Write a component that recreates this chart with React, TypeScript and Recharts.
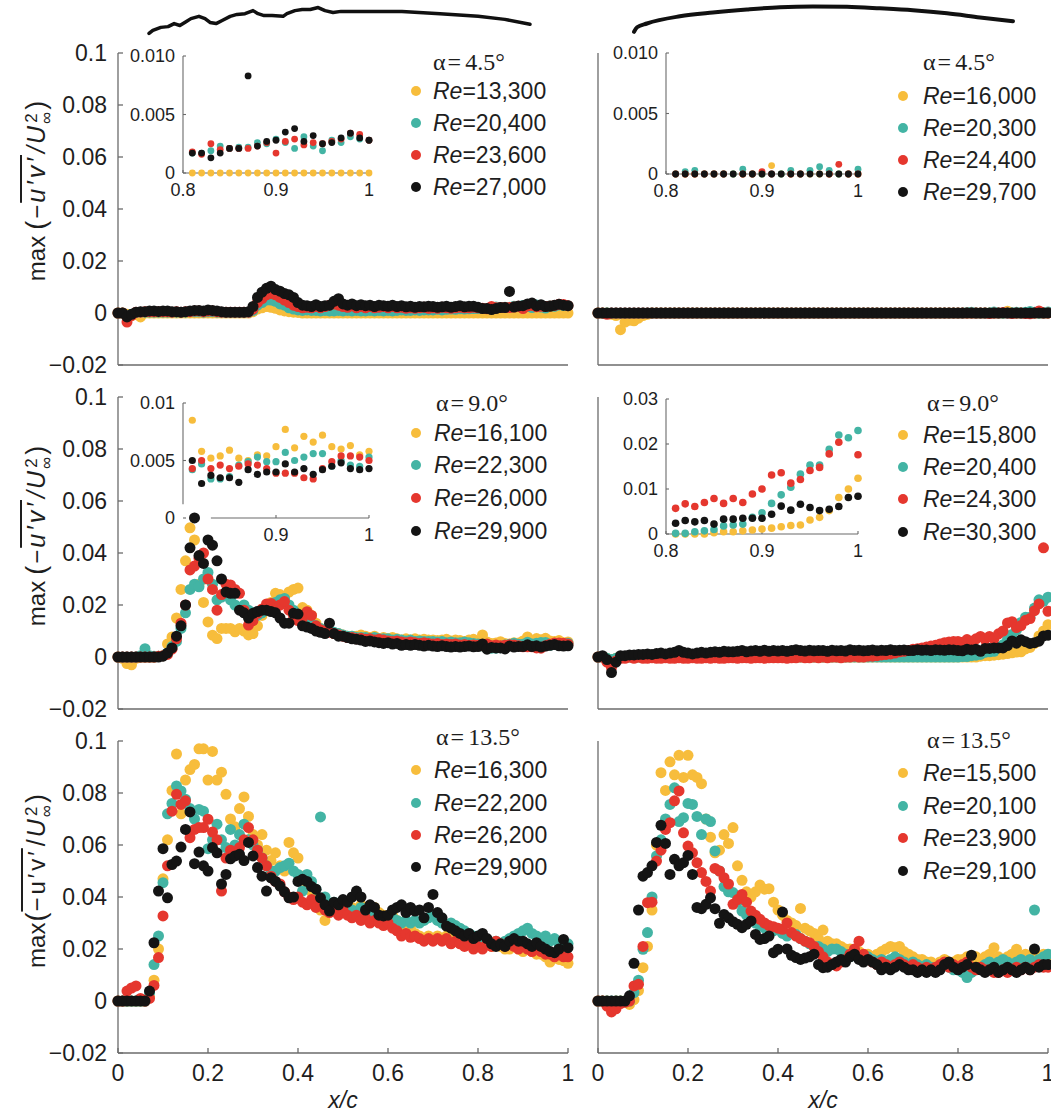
import React from 'react';
import { ScatterChart, Scatter, XAxis, YAxis, LineChart, Line, ReferenceLine } from 'recharts';

const SANS = '"Liberation Sans", Arial, Helvetica, sans-serif';
const SERIF = '"Liberation Serif", "Times New Roman", Times, serif';
const AXIS = '#6b6b6b';
const INK = '#1e1e1e';
const SERIES_COLORS = ['#F7BD3C', '#43B4A4', '#E5372E', '#141414'];

// chordwise stations x/c
const X = [0, 0.01, 0.02, 0.03, 0.04, 0.05, 0.06, 0.07, 0.08, 0.09, 0.1, 0.11, 0.12, 0.13, 0.14, 0.15, 0.16, 0.17, 0.18, 0.19, 0.2, 0.21, 0.22, 0.23, 0.24, 0.25, 0.26, 0.27, 0.28, 0.29, 0.3, 0.31, 0.32, 0.33, 0.34, 0.35, 0.36, 0.37, 0.38, 0.39, 0.4, 0.41, 0.42, 0.43, 0.44, 0.45, 0.46, 0.47, 0.48, 0.49, 0.5, 0.51, 0.52, 0.53, 0.54, 0.55, 0.56, 0.57, 0.58, 0.59, 0.6, 0.61, 0.62, 0.63, 0.64, 0.65, 0.66, 0.67, 0.68, 0.69, 0.7, 0.71, 0.72, 0.73, 0.74, 0.75, 0.76, 0.77, 0.78, 0.79, 0.8, 0.81, 0.82, 0.83, 0.84, 0.85, 0.86, 0.87, 0.88, 0.89, 0.9, 0.91, 0.92, 0.93, 0.94, 0.95, 0.96, 0.97, 0.98, 0.99, 1];
const XI = X.slice(81); // inset stations 0.81 .. 1.00

const X_TICKS = [0, 0.2, 0.4, 0.6, 0.8, 1];
const X_TICK_LABELS = ['0', '0.2', '0.4', '0.6', '0.8', '1'];
const Y_TICKS = [-0.02, 0, 0.02, 0.04, 0.06, 0.08, 0.1];
const Y_TICK_LABELS = ['\u22120.02', '0', '0.02', '0.04', '0.06', '0.08', '0.1'];
const IX_TICKS = [0.8, 0.9, 1];
const IX_LABELS = ['0.8', '0.9', '1'];

const RE_A = ['13,300', '20,400', '23,600', '27,000'];
const RE_B = ['16,000', '20,300', '24,400', '29,700'];
const RE_C = ['16,100', '22,300', '26,000', '29,900'];
const RE_D = ['15,800', '20,400', '24,300', '30,300'];
const RE_E = ['16,300', '22,200', '26,200', '29,900'];
const RE_F = ['15,500', '20,100', '23,900', '29,100'];
const ALPHAS = ['4.5', '9.0', '13.5'];

// values in units of 1e-3
// ---- alpha 4.5, rough airfoil
const A_YELLOW = [
  0, 0, -0.5, -1, -0.5, -1.5, 0, 0, 0, 0,
  0, 0, 0, 0, 0, 0, 0, 0, 0, 0,
  0, 0, 0, 0, 0, 0, 0, 0, 0, 0,
  0.5, 1.5, 2, 2.5, 2.2, 1.8, 1.2, 0.8, 0.5, 0.3,
  0.2, 0, 0, 0, 0, 0, 0, 0, 0, 0,
  0, 0, 0, 0, 0, 0, 0, 0, 0, 0,
  0, 0, 0, 0, 0, 0, 0, 0, 0, 0,
  0, 0, 0, 0, 0, 0, 0, 0, 0, 0,
  0, 0, 0, 0, 0, 0, 0, 0, 0, 0,
  0, 0, 0, 0, 0, 0, 0, 0, 0, 0,
  0,
];
const A_TEAL = [
  0, 0, -1, -0.5, 0.2, 0.3, 0.3, 0.3, 0.3, 0.3,
  0.3, 0.3, 0.3, 0.3, 0.3, 0.3, 0.5, 0.5, 0.5, 0.3,
  0.5, 0.5, 0.3, 0.2, 0.2, 0.2, 0.2, 0.2, 0.2, 0.2,
  1, 3, 4, 5, 5, 4.5, 3.5, 3, 2, 1.5,
  1.2, 1, 1.2, 1, 1, 0.8, 1, 0.8, 0.8, 1,
  0.8, 1, 0.8, 1, 0.8, 0.8, 1, 0.8, 1, 0.8,
  1, 0.8, 1, 1.2, 1, 1, 1.2, 1, 1.2, 1.2,
  1.2, 1.4, 1.2, 1.4, 1.5, 1.4, 1.6, 1.5, 1.6, 1.7,
  1.7, 1.7, 1.7, 1.9, 2.3, 2.1, 2.2, 2.2, 2.6, 2.5,
  2.9, 2.6, 2.1, 3.1, 2.3, 1.9, 2.8, 2.6, 3.1, 2.9,
  2.8,
];
const A_RED = [
  0, 0, -3.5, -1, 0.3, 0.3, 0.5, 0.5, 0.5, 0.5,
  0.5, 0.5, 0.3, 0.5, 0.3, 0.5, 0.5, 0.8, 0.8, 0.5,
  0.8, 0.8, 0.5, 0.3, 0.3, 0.3, 0.3, 0.3, 0.3, 0.3,
  1.5, 4, 5.5, 7, 7.5, 7, 6, 5, 4, 3,
  2.5, 2, 2.2, 2, 2.5, 2, 2.5, 3, 3.5, 3,
  2.5, 2.2, 2.8, 2, 2.5, 2, 2.5, 2, 2.2, 2.5,
  2, 2.5, 2, 2.2, 1.8, 2, 1.8, 2, 2.2, 1.8,
  2, 1.8, 2.2, 2, 1.8, 2, 2.2, 2, 2, 2.2,
  2, 1.8, 1.6, 2.5, 2, 2.1, 2.1, 2.1, 2.3, 2.6,
  1.7, 2.7, 2.9, 2.4, 2.6, 2.5, 2.7, 2.9, 3.4, 3.3,
  2.8,
];
const A_BLACK = [
  0, 0, -1.5, -0.5, 0.3, 0.5, 0.5, 0.8, 0.8, 0.6,
  0.8, 0.8, 0.5, 0.5, 0.3, 0.5, 0.8, 1, 1, 0.8,
  1.2, 1, 0.8, 0.5, 0.3, 0.3, 0.3, 0.3, 0.3, 0.5,
  2.5, 6, 8, 9.5, 10.3, 9, 8.4, 7.5, 7, 6,
  4, 3, 2.8, 2.5, 3.2, 2.5, 2.8, 3, 4.5, 5.5,
  3.5, 3, 3.5, 2.8, 3.2, 2.8, 3, 2.5, 3, 2.8,
  2.6, 3, 2.5, 2.8, 2.4, 2.6, 2.2, 2.5, 2.4, 2.6,
  2.5, 2.2, 2.4, 2.6, 2.2, 2.5, 2.8, 2.4, 2.6, 2.6,
  2.2, 1.7, 1.7, 1.3, 1.7, 2.1, 2.1, 8.3, 2.3, 2.7,
  2.8, 3.5, 3.8, 2.7, 3.2, 2.5, 2.6, 3, 3.4, 3,
  2.8,
];

// ---- alpha 4.5, smooth airfoil
const B_YELLOW = [
  0, 0, 0, -0.5, -1, -6.4, -3.5, -2.8, -3, -2,
  -1, -0.5, 0, 0, 0, 0, 0, 0, 0, 0,
  0, 0, 0, 0, 0, 0, 0, 0, 0, 0,
  0, 0, 0, 0, 0, 0, 0, 0, 0, 0,
  0, 0, 0, 0, 0, 0, 0, 0, 0, 0,
  0, 0, 0, 0, 0, 0, 0, 0, 0, 0,
  0, 0, 0, 0, 0, 0, 0, 0, 0, 0,
  0, 0, 0, 0, 0, 0, 0, 0, 0, 0,
  0, 0, 0, 0, 0, 0, 0, 0, 0, 0,
  0, 0.7, 0, 0, 0, 0, 0, 0, 0, 0,
  0,
];
const B_TEAL = [
  0, 0, 0, 0, 0, 0, 0, 0, 0, 0,
  0, 0, 0, 0, 0, 0, 0, 0, 0, 0,
  0, 0, 0, 0, 0, 0, 0, 0, 0, 0,
  0, 0, 0, 0, 0, 0, 0, 0, 0, 0,
  0, 0, 0, 0, 0, 0, 0, 0, 0, 0,
  0, 0, 0, 0, 0, 0, 0, 0, 0, 0,
  0, 0, 0, 0, 0, 0, 0, 0, 0, 0,
  0, 0, 0, 0, 0, 0, 0, 0, 0, 0,
  0, 0, 0.2, 0.3, 0, 0, 0, 0, 0.4, 0,
  0, 0, 0, 0.3, 0, 0.3, 0.6, 0.3, 0, 0,
  0.4,
];
const B_RED = [
  0, 0, -0.5, 0, 0, 0, 0, 0, 0, 0,
  0, 0, 0, 0, 0, 0, 0, 0, 0, 0,
  0, 0, 0, 0, 0, 0, 0, 0, 0, 0,
  0, 0, 0, 0, 0, 0, 0, 0, 0, 0,
  0, 0, 0, 0, 0, 0, 0, 0, 0, 0,
  0, 0, 0, 0, 0, 0, 0, 0, 0, 0,
  0, 0, 0, 0, 0, 0, 0, 0, 0, 0,
  0, 0, 0, 0, 0, 0, 0, 0, 0, 0,
  0, 0, 0, 0, 0, 0, 0, -0.2, 0, 0,
  0.2, 0, -0.2, 0, 0, -0.2, -0.3, 0, 0.8, 0,
  0,
];
const B_BLACK = [
  0, 0, 0, 0, 0, 0, 0, 0, 0, 0,
  0, 0, 0, 0, 0, 0, 0, 0, 0, 0,
  0, 0, 0, 0, 0, 0, 0, 0, 0, 0,
  0, 0, 0, 0, 0, 0, 0, 0, 0, 0,
  0, 0, 0, 0, 0, 0, 0, 0, 0, 0,
  0, 0, 0, 0, 0, 0, 0, 0, 0, 0,
  0, 0, 0, 0, 0, 0, 0, 0, 0, 0,
  0, 0, 0, 0, 0, 0, 0, 0, 0, 0,
  0, 0, 0, 0, 0, 0, 0, 0, 0, 0,
  0, 0, 0, 0, 0, 0, 0, 0, 0, 0,
  0,
];

// ---- alpha 9.0, rough airfoil
const C_YELLOW = [
  0, -0.5, -2.5, -3, -0.5, 0, 0, 0, 0, 0.3,
  0.5, 5, 7.7, 15, 26, 37, 49.7, 45, 28, 21,
  13.5, 8.4, 7.1, 11, 11, 11, 9.7, 11, 10, 8.5,
  9, 12, 16, 19, 21, 24.5, 24, 23, 25, 26,
  26.5, 19, 18, 16, 13, 11, 10, 10, 9, 9,
  8.5, 8, 8, 8, 8.5, 8, 7.5, 8, 7, 7.5,
  7, 7.5, 7, 6.5, 7, 6.5, 7, 6.5, 6.8, 6.5,
  6.5, 6.3, 6.5, 6.8, 6.2, 6.5, 6.3, 6, 6.5, 6.8,
  6, 8.5, 5.8, 5.2, 5.4, 5.9, 5.2, 5, 5.5, 5.4,
  6.2, 7.7, 6.1, 7.1, 6.6, 7.2, 6.2, 6, 6.3, 5.5,
  5.8,
];
const C_TEAL = [
  0, 0, 0, 0, 0, 0.5, 3.2, 0.5, 0.3, 0.3,
  0.5, 1.5, 4, 6, 11, 17, 26, 28, 27, 30,
  32.5, 28, 22, 23, 24, 22, 20, 19, 20, 18,
  17, 16, 17, 18, 19, 21, 22, 22.5, 20, 18,
  16, 15, 13.5, 12.5, 12, 11, 10, 10, 9.5, 9,
  8.5, 8, 8, 7.5, 7.5, 7.5, 7, 7.5, 7, 7,
  7, 6.5, 6.8, 6.5, 6.2, 6.5, 6, 6.2, 6, 6,
  6, 5.8, 6, 5.5, 5.8, 5.5, 5.5, 5.8, 5.5, 5.2,
  5, 4.2, 4.7, 3.4, 3.4, 3.6, 4.6, 4.9, 5.3, 4.9,
  4.9, 5.7, 5, 5.3, 5.6, 5.6, 4.5, 5, 4.6, 4.5,
  5.3,
];
const C_RED = [
  0, 0, 0, 0, 0, 0, 0, 0, 0, 0.3,
  0.5, 1, 3, 7, 13, 20, 33.5, 35, 38, 40,
  30, 26, 18, 24, 28, 27.7, 26, 24.5, 18, 12.3,
  14, 16.8, 18.5, 20.4, 20.6, 19, 20, 21.3, 18, 16,
  14, 15, 17.4, 16, 12, 10.5, 10, 9.5, 9, 8.5,
  8, 7.5, 7.5, 7, 7.2, 6.8, 7, 6.5, 6.8, 6.5,
  6.2, 6, 6.2, 5.8, 5.5, 5.8, 5.5, 5.2, 5.5, 5.2,
  5, 5.2, 4.8, 5, 4.8, 5, 4.6, 4.8, 4.5, 4.6,
  4.5, 4.3, 5, 4.3, 4.6, 4.3, 4.5, 4.7, 4.6, 4.3,
  3.9, 3.9, 3.9, 3.5, 3.4, 4.3, 4.9, 5.4, 5.4, 5.3,
  5,
];
const C_BLACK = [
  0, 0, 0, 0, 0, 0, 0, 0, 0, 0,
  0.3, 1.5, 3.5, 8, 12, 20, 42, 53.5, 39, 36,
  45, 43, 37, 30, 25, 24.5, 24.5, 18, 17, 15,
  16.8, 17.5, 18, 18, 17.5, 17, 15, 13, 13, 16.8,
  16.5, 12, 11.5, 11, 10, 9.5, 9, 13, 9, 8,
  8, 7.5, 7, 6.8, 6.5, 6, 6.2, 5.8, 5.5, 5.2,
  5.5, 5, 5.2, 4.5, 4.8, 4.5, 4.8, 4.5, 4.2, 4.5,
  4.2, 4, 4.3, 4, 3.8, 4, 3.8, 4, 4.2, 3.9,
  4, 5, 3, 3.7, 3.5, 3.5, 3.1, 4.2, 3.8, 4,
  4, 4.7, 4, 4.3, 3.8, 4.2, 4.5, 4.8, 4.3, 4.2,
  4.3,
];

// ---- alpha 9.0, smooth airfoil
const D_YELLOW = [
  0, 0, -0.5, -1, -0.5, 0, 0, 0, 0, 0,
  0, 0, 0, 0, 0, 0, 0, 0, 0, 0,
  0, 0, 0, 0, 0, 0, 0, 0, 0, 0,
  0, 0, 0, 0, 0, 0, 0, 0, 0, 0,
  0, 0, 0, 0, 0, 0, 0, 0, 0, 0,
  0, 0, 0, 0, 0, 0, 0, 0, 0, 0,
  0, 0, 0, 0, 0, 0, 0, 0, 0, 0,
  0, 0, 0, 0, 0, 0, 0, 0, 0, 0,
  0, 0, 0, 0, 0, 0.3, 0.5, 0.5, 0.7, 0.9,
  1.1, 1.3, 1.6, 1.9, 2, 3.1, 3.7, 5.2, 8.1, 10,
  12.4,
];
const D_TEAL = [
  0, 0, -0.5, -1, -0.5, 0, 0, 0, 0, 0,
  0, 0, 0, 0, 0, 0, 0, 0, 0, 0,
  0, 0, 0, 0, 0, 0, 0, 0, 0, 0,
  0, 0, 0, 0, 0, 0, 0, 0, 0, 0,
  0, 0, 0, 0, 0, 0, 0, 0, 0, 0,
  0, 0, 0, 0, 0, 0, 0, 0, 0, 0,
  0, 0, 0, 0, 0, 0, 0, 0, 0, 0,
  0, 0, 0, 0, 0, 0, 0, 0, 0, 0,
  0, 0.15, 0.15, 0.5, 0.7, 1, 1.8, 2, 2.2, 3.7,
  4.7, 6.8, 8.7, 10.4, 13.3, 15.3, 15.3, 18.8, 22, 21.4,
  23,
];
const D_RED = [
  0, 0, -2, -4, -1.5, -0.5, -0.5, 0, -0.5, 0,
  -0.5, -0.5, -0.3, -0.5, -0.5, -0.3, -0.5, -0.5, -0.3, -0.5,
  -0.5, -0.3, -0.5, -0.5, -0.3, -0.5, -0.3, -0.5, -0.5, -0.3,
  -0.3, -0.5, -0.3, -0.3, -0.5, -0.3, -0.3, -0.5, -0.3, -0.3,
  -0.3, -0.3, -0.5, -0.3, -0.3, 0, -0.3, -0.3, 0, -0.3,
  0, -0.3, 0, 0, -0.3, 0, 0, 0.3, 0, 0,
  0.3, 0.3, 0.5, 0.8, 1, 1.2, 1.5, 2, 2.2, 2.5,
  3, 3.2, 3.5, 3.8, 4.2, 4.5, 5, 5.5, 5.8, 6,
  6, 5.7, 6.7, 6.1, 7, 7.9, 6.8, 7.9, 7, 8.9,
  10, 13.1, 13.6, 11.3, 12.1, 14.1, 14.8, 17.8, 20.4, 42,
  17.6,
];
const D_BLACK = [
  0, 0.5, -1, -6, -2, 0.5, 0.5, 0.8, 0.8, 1,
  1, 1.2, 1, 1.3, 1.5, 1.2, 1.5, 1.8, 2.5, 1.8,
  1.5, 1.2, 1.5, 1.8, 1.5, 1.8, 2, 1.8, 2.2, 2,
  2, 2.2, 2.5, 2, 2.3, 2.5, 2.2, 2.6, 2.2, 2.5,
  2.3, 2.5, 2.2, 2.5, 2.8, 2.5, 2.3, 2.6, 2.4, 2.5,
  2.5, 2.2, 2.6, 2.4, 2.5, 2.3, 2.8, 2.5, 2.6, 2.4,
  2.5, 2.7, 2.4, 2.6, 2.5, 2.8, 2.5, 2.6, 2.7, 2.5,
  2.5, 2.8, 2.6, 2.7, 2.5, 2.8, 2.7, 2.6, 2.8, 2.7,
  2.5, 2.4, 3, 2.7, 3, 2.2, 3.3, 3.3, 3.5, 3.5,
  3.5, 4.4, 6.2, 5.3, 6.6, 5.9, 5.2, 5.5, 6.1, 8.1,
  8.4,
];

// ---- alpha 13.5, rough airfoil
const E_YELLOW = [
  0, 0, 0, 0, 0, 0, 0, 1.5, 8, 20,
  47, 62, 81, 95, 72, 85, 89, 91, 97, 97,
  85, 96, 85, 88, 79.5, 70, 67, 74, 78.5, 71,
  64, 60, 64, 58, 54, 57, 52, 50, 61, 57,
  55, 48, 45, 42, 40, 35, 31, 37, 36, 37,
  36, 38, 36, 35, 37, 36, 35, 36, 34, 33,
  32, 33, 31, 30, 29, 28, 26, 25, 24, 25,
  24, 25, 24, 25, 26, 24, 23, 24, 23, 22,
  22, 23, 22, 21, 22, 21, 20, 20, 21, 20,
  19, 20, 19, 18, 18, 17, 15, 17, 16, 15.5,
  14.5,
];
const E_TEAL = [
  0, 0, 0, 0, 0, 0, 0, 3, 14, 25,
  45.5, 72, 76, 82.7, 80.8, 77.6, 74, 70, 73.7, 73,
  58.6, 62, 68, 62, 59, 66, 60, 64, 68, 62,
  60, 58, 55, 52, 50, 50, 51.3, 52, 53, 50,
  48.7, 42.3, 48.7, 46, 43, 70.8, 40, 37, 38, 36,
  37, 36, 35, 34, 36, 33, 32, 34, 31, 30,
  31, 32, 31, 30, 31, 30, 31, 30, 31, 32,
  33, 31, 30, 29, 30, 29, 28, 27, 26, 25,
  25, 24, 23, 22, 23, 22, 23, 24, 25, 26,
  27, 28, 26, 25, 24, 25, 23, 24, 22, 23,
  22,
];
const E_RED = [
  0, 0, 3.8, 5, 5.8, 1, 0, 1, 6, 16.7,
  32.7, 52, 73, 79.5, 75.6, 77, 62.8, 66, 66.7, 66.7,
  69.9, 65, 62, 42.3, 55, 58, 56, 59, 62, 66.7,
  62, 58, 55, 52, 48, 46, 45, 42, 40, 39,
  40, 38, 37, 39, 36, 37, 35, 34, 36, 33,
  35, 33, 32, 33, 31, 32, 30, 31, 30, 29,
  30, 28, 27, 25, 26, 24.5, 25, 24, 23, 24,
  23, 24, 23, 24, 22, 23, 22, 21, 22, 20,
  21, 20, 22, 21, 23, 22, 21, 22, 21, 20,
  21, 20, 19, 20, 19, 18, 18, 17, 18, 17,
  17,
];
const E_BLACK = [
  0, 0, 0, 0, 0, 0, 0, 3.8, 22.4, 42.3,
  58.6, 39.7, 52.5, 53.8, 59.2, 66, 72.7, 52.8, 57.3, 52,
  50, 59, 57, 45, 48.7, 54.7, 55.8, 56.4, 54, 61,
  55.8, 51.3, 48, 42.3, 47.4, 46, 44.2, 42, 39.7, 40,
  46, 46.8, 46, 44, 43, 39.7, 37, 34.6, 38, 37,
  39, 38, 40, 42.3, 40, 35, 37, 36, 33, 32.7,
  33, 35, 36, 37, 34, 36, 34.6, 35, 32, 36,
  41, 34, 32, 28.8, 28, 27, 26, 25, 26, 24,
  25, 26, 24, 22, 21, 22, 21, 23, 24, 23,
  23, 22, 21, 22.4, 21, 20, 19, 18.6, 20, 23.7,
  20.5,
];

// ---- alpha 13.5, smooth airfoil
const F_YELLOW = [
  0, 0, 0, -1.5, 0, 0, 0, -1.3, 0.5, 4,
  12.8, 21, 35, 60, 87.8, 81, 92, 87, 94.5, 86,
  94.5, 87, 86, 83.6, 70, 63, 57, 58, 64, 60.6,
  66.7, 52, 46.4, 42, 40, 42, 44.6, 43, 43.2, 38,
  35, 33, 31, 30, 29, 35.6, 28, 27, 26, 24,
  27.3, 23, 22, 22, 21, 20, 20, 19, 19, 18,
  18, 17, 18, 19, 20, 21, 20.5, 21, 19, 18,
  17, 16, 16, 15, 15, 14, 15, 16, 15, 15,
  16, 16, 17, 16, 17, 16, 17, 18, 20.5, 17,
  16, 17, 18, 19.9, 17, 18, 17, 18, 16, 18,
  17,
];
const F_TEAL = [
  0, 0, 0, 0, 0, 0, 0, 0, 3.2, 8,
  19.9, 26.3, 40, 55.8, 62, 70, 75.6, 82, 69, 70.5,
  76, 75.6, 71, 64, 70, 69, 57.7, 50, 44, 42,
  41.7, 38, 34.6, 33, 31, 30, 29, 28, 28, 27,
  27.5, 26, 25, 26, 25.6, 24, 23, 22, 21, 21,
  20, 19, 20, 20, 19, 18, 17, 18, 17, 16,
  17, 16, 15, 16, 15, 16, 17, 16, 15, 14,
  15, 14, 13, 14, 13, 12, 13, 14, 13, 12,
  12, 11, 9, 11, 12, 13, 14, 15, 14, 15,
  16, 15, 14, 15, 16, 15, 16, 35, 16, 17,
  18,
];
const F_RED = [
  0, 0, -2, -4.2, -3, -1, -0.5, 0, 5.8, 6.4,
  21, 37.8, 38, 53.8, 58, 66, 68.6, 77, 80.8, 64.7,
  59.6, 57, 53.2, 49.4, 46, 42.3, 51, 50, 47.4, 45,
  37.2, 39, 41, 38, 34.6, 33, 31.4, 30, 29, 28.6,
  28, 27.6, 30, 26.3, 25, 24, 23, 22.4, 21, 19,
  17, 15, 14, 13.5, 15, 16, 18, 20, 23, 18,
  16, 15, 14, 15, 14, 13, 14, 15, 14, 13,
  14, 13, 12, 13, 12, 13, 14, 15, 13, 14,
  13, 14, 15, 13, 12, 13, 12, 12, 11, 11,
  12, 11, 12, 13, 12, 13, 12, 13, 14, 13,
  13,
];
const F_BLACK = [
  0, 0, 0, 0, 0, 0, 0, 2, 14.5, 35,
  48, 49.4, 52, 61, 67.6, 60.6, 48.7, 54.5, 52, 53.2,
  56, 48.7, 36, 35.5, 37.2, 39.7, 35.5, 29.9, 33.3, 32,
  30.5, 29.5, 28.2, 29.5, 30.8, 25.6, 23.7, 24, 25, 18.6,
  19.9, 34.2, 20, 17.6, 16.7, 16, 16.5, 17, 18, 14,
  12.8, 13, 14, 15, 16, 15, 17, 18, 16, 15,
  16, 15, 14, 12, 13, 12, 13, 14, 13, 12,
  12, 11, 12, 11, 12, 11, 12, 14, 15, 13,
  12, 13, 14, 17.6, 13, 12, 11, 12, 13, 11,
  12, 13, 12, 11, 12, 13, 12, 20, 13, 14,
  14,
];

// airfoil outlines (x/c, camber-line height / c)
const ROUGH_FOIL_X = [0, 0.01, 0.031, 0.05, 0.066, 0.081, 0.097, 0.11, 0.131, 0.147, 0.16, 0.176, 0.192, 0.213, 0.231, 0.252, 0.273, 0.286, 0.302, 0.323, 0.352, 0.362, 0.383, 0.402, 0.423, 0.444, 0.462, 0.483, 0.504, 0.564, 0.664, 0.764, 0.864, 0.934, 1];
const ROUGH_FOIL_Y = [0, 0.008, 0.016, 0.018, 0.026, 0.021, 0.031, 0.039, 0.045, 0.039, 0.029, 0.026, 0.034, 0.045, 0.05, 0.052, 0.06, 0.052, 0.047, 0.047, 0.045, 0.052, 0.06, 0.063, 0.063, 0.068, 0.06, 0.055, 0.058, 0.058, 0.058, 0.052, 0.045, 0.037, 0.024];
const SMOOTH_FOIL_X = [0, 0.008, 0.034, 0.121, 0.208, 0.298, 0.385, 0.472, 0.562, 0.649, 0.736, 0.826, 0.913, 1];
const SMOOTH_FOIL_Y = [-0.004, 0.008, 0.018, 0.037, 0.047, 0.055, 0.061, 0.063, 0.062, 0.058, 0.053, 0.045, 0.034, 0.024];

type Series = { values: number[]; color: string };
const mk = (arrs: number[][]): Series[] => arrs.map((v, i) => ({ values: v, color: SERIES_COLORS[i] }));

const lookup = (ticks: number[], labels: string[]) => (v: number) => {
  const i = ticks.findIndex((t) => Math.abs(t - v) < 1e-9);
  return i >= 0 ? labels[i] : '';
};

function rows(xs: number[], vals: number[], lo: number, hi: number) {
  const out: { x: number; y: number }[] = [];
  xs.forEach((x, i) => {
    const v = vals[i];
    if (v === undefined || v === null) return;
    const y = v / 1000;
    if (y >= lo - 1e-12 && y <= hi + 1e-12) out.push({ x, y });
  });
  return out;
}

const dotShape = (r: number, color: string) => (p: any) => <circle cx={p.cx} cy={p.cy} r={r} fill={color} />;

function MainPanel({ plotLeft, plotTop, series, yLabels, xLabels }: { plotLeft: number; plotTop: number; series: Series[]; yLabels: boolean; xLabels: boolean }) {
  const plotW = 450;
  const plotH = 312;
  const yw = yLabels ? plotLeft : 10;
  const mt = 16;
  const mr = yLabels ? 10 : 3;
  const xh = xLabels ? 50 : 12;
  const width = yw + plotW + mr;
  const height = mt + plotH + xh;
  return (
    <div style={{ position: 'absolute', left: plotLeft - yw, top: plotTop - mt, width, height }}>
      <ScatterChart width={width} height={height} margin={{ top: mt, right: mr, bottom: 0, left: 0 }}>
        <XAxis type="number" dataKey="x" domain={[0, 1]} ticks={X_TICKS} interval={0} height={xh}
          tickSize={-5} tickMargin={17}
          axisLine={{ stroke: AXIS, strokeWidth: 1.3 }} tickLine={{ stroke: AXIS, strokeWidth: 1.3 }}
          tick={xLabels ? { fill: INK, fontSize: 23, fontFamily: SANS } : false}
          tickFormatter={lookup(X_TICKS, X_TICK_LABELS)} />
        <YAxis type="number" dataKey="y" domain={[-0.02, 0.1]} ticks={Y_TICKS} interval={0} width={yw}
          tickSize={-5} tickMargin={16}
          axisLine={{ stroke: AXIS, strokeWidth: 1.3 }} tickLine={{ stroke: AXIS, strokeWidth: 1.3 }}
          tick={yLabels ? { fill: INK, fontSize: 23, fontFamily: SANS } : false}
          tickFormatter={lookup(Y_TICKS, Y_TICK_LABELS)} />
        {series.map((s, i) => (
          <Scatter key={i} data={rows(X, s.values, -0.02, 0.1)} fill={s.color} shape={dotShape(5.5, s.color)} isAnimationActive={false} />
        ))}
      </ScatterChart>
    </div>
  );
}

function InsetPanel({ plotLeft, plotTop, plotW, plotH, yMax, yTicks, yTickLabels, xTicks, xTickLabels, series, r, broken }: {
  plotLeft: number; plotTop: number; plotW: number; plotH: number; yMax: number; yTicks: number[]; yTickLabels: string[];
  xTicks: number[]; xTickLabels: string[]; series: Series[]; r: number; broken?: boolean;
}) {
  const yw = 70, mt = 14, mr = 8, xh = 34;
  const width = yw + plotW + mr;
  const height = mt + plotH + xh;
  const font = { fill: INK, fontSize: 18, fontFamily: SANS };
  return (
    <div style={{ position: 'absolute', left: plotLeft - yw, top: plotTop - mt, width, height }}>
      <ScatterChart width={width} height={height} margin={{ top: mt, right: mr, bottom: 0, left: 0 }}>
        <XAxis type="number" dataKey="x" domain={[0.8, 1]} ticks={xTicks} interval={0} height={xh}
          tickSize={-3} tickMargin={13}
          axisLine={broken ? false : { stroke: AXIS, strokeWidth: 1.1 }} tickLine={{ stroke: AXIS, strokeWidth: 1.1 }}
          tick={font} tickFormatter={lookup(xTicks, xTickLabels)} />
        <YAxis type="number" dataKey="y" domain={[0, yMax]} ticks={yTicks} interval={0} width={yw}
          tickSize={-3} tickMargin={11}
          axisLine={broken ? false : { stroke: AXIS, strokeWidth: 1.1 }} tickLine={{ stroke: AXIS, strokeWidth: 1.1 }}
          tick={font} tickFormatter={lookup(yTicks, yTickLabels)} />
        {broken && <ReferenceLine segment={[{ x: 0.8, y: 0.0012 }, { x: 0.8, y: yMax }]} stroke={AXIS} strokeWidth={1.1} />}
        {broken && <ReferenceLine segment={[{ x: 0.83, y: 0 }, { x: 1, y: 0 }]} stroke={AXIS} strokeWidth={1.1} />}
        {series.map((s, i) => (
          <Scatter key={i} data={rows(XI, s.values.slice(81), 0, yMax)} fill={s.color} shape={dotShape(r, s.color)} isAnimationActive={false} />
        ))}
      </ScatterChart>
    </div>
  );
}

function Airfoil({ left, top, chord, xs, ys, strokeWidth, curve }: { left: number; top: number; chord: number; xs: number[]; ys: number[]; strokeWidth: number; curve: 'linear' | 'monotone' }) {
  const pad = 4;
  const h = 0.1 * chord;
  const data = xs.map((x, i) => ({ x, y: ys[i] }));
  return (
    <div style={{ position: 'absolute', left: left - pad, top: top - pad, width: chord + 2 * pad, height: h + 2 * pad }}>
      <LineChart width={chord + 2 * pad} height={h + 2 * pad} data={data} margin={{ top: pad, right: pad, bottom: pad, left: pad }}>
        <XAxis type="number" dataKey="x" domain={[0, 1]} hide />
        <YAxis type="number" domain={[-0.02, 0.08]} hide />
        <Line type={curve} dataKey="y" stroke="#111" strokeWidth={strokeWidth} dot={false} isAnimationActive={false} strokeLinecap="round" strokeLinejoin="round" />
      </LineChart>
    </div>
  );
}

function LegendBlock({ alpha, alphaLeft, alphaCy, dotX, textLeft, ys, names }: { alpha: string; alphaLeft: number; alphaCy: number; dotX: number; textLeft: number; ys: number[]; names: string[] }) {
  return (
    <>
      <div style={{ position: 'absolute', left: alphaLeft, top: alphaCy - 15, height: 30, lineHeight: '30px', fontFamily: SERIF, fontSize: 24, color: INK, whiteSpace: 'nowrap' }}>
        α<span style={{ margin: '0 4px 0 2px' }}>=</span>{alpha}°
      </div>
      {names.map((n, i) => (
        <React.Fragment key={i}>
          <div style={{ position: 'absolute', left: dotX - 5, top: ys[i] - 5, width: 10, height: 10, borderRadius: 5, background: SERIES_COLORS[i] }} />
          <div style={{ position: 'absolute', left: textLeft, top: ys[i] - 15, height: 30, lineHeight: '30px', fontFamily: SANS, fontSize: 23, color: INK, whiteSpace: 'nowrap' }}>
            <i>Re</i>={n}
          </div>
        </React.Fragment>
      ))}
    </>
  );
}

function YTitle({ cy, fullBar }: { cy: number; fullBar: boolean }) {
  const stack = (
    <span style={{ display: 'inline-flex', flexDirection: 'column', verticalAlign: 'middle', fontSize: 17, lineHeight: '15px', margin: '0 2px 0 2px', fontStyle: 'normal' }}>
      <span>2</span>
      <span>∞</span>
    </span>
  );
  return (
    <div style={{ position: 'absolute', left: 36 - 130, top: cy - 20, width: 260, height: 40, lineHeight: '40px', textAlign: 'center', transform: 'rotate(-90deg)', fontFamily: SANS, fontSize: 24, color: INK, whiteSpace: 'nowrap' }}>
      <span>max</span>
      <span style={{ fontSize: 27, margin: fullBar ? '0 1px 0 1px' : '0 2px 0 6px' }}>(</span>
      {fullBar ? (
        <span style={{ textDecoration: 'overline', letterSpacing: 3 }}>−u′v′</span>
      ) : (
        <>
          <span style={{ marginRight: 2 }}>−</span>
          <span style={{ textDecoration: 'overline', fontStyle: 'italic', letterSpacing: 3, fontSize: 25 }}>u′v′</span>
        </>
      )}
      <span style={{ fontStyle: fullBar ? 'normal' : 'italic', fontSize: 25, marginLeft: 2 }}>/</span>
      <span style={{ fontStyle: 'italic', fontSize: 25, marginLeft: 2 }}>U</span>
      {stack}
      <span style={{ fontSize: 27 }}>)</span>
    </div>
  );
}

const LEFT_X = 118;
const RIGHT_X = 598;
const ROW_TOPS = [53, 397, 741];

export default function App() {
  const A = mk([A_YELLOW, A_TEAL, A_RED, A_BLACK]);
  const B = mk([B_YELLOW, B_TEAL, B_RED, B_BLACK]);
  const C = mk([C_YELLOW, C_TEAL, C_RED, C_BLACK]);
  const D = mk([D_YELLOW, D_TEAL, D_RED, D_BLACK]);
  const E = mk([E_YELLOW, E_TEAL, E_RED, E_BLACK]);
  const F = mk([F_YELLOW, F_TEAL, F_RED, F_BLACK]);
  return (
    <div style={{ position: 'absolute', left: 0, top: 0, width: 1051, height: 1115, overflow: 'hidden', background: '#fff' }}>
      <Airfoil left={149} top={2.5} chord={381} xs={ROUGH_FOIL_X} ys={ROUGH_FOIL_Y} strokeWidth={3.5} curve="linear" />
      <Airfoil left={634} top={-0.3} chord={379} xs={SMOOTH_FOIL_X} ys={SMOOTH_FOIL_Y} strokeWidth={4} curve="monotone" />

      <MainPanel plotLeft={LEFT_X} plotTop={ROW_TOPS[0]} series={A} yLabels xLabels={false} />
      <MainPanel plotLeft={RIGHT_X} plotTop={ROW_TOPS[0]} series={B} yLabels={false} xLabels={false} />
      <MainPanel plotLeft={LEFT_X} plotTop={ROW_TOPS[1]} series={C} yLabels xLabels={false} />
      <MainPanel plotLeft={RIGHT_X} plotTop={ROW_TOPS[1]} series={D} yLabels={false} xLabels={false} />
      <MainPanel plotLeft={LEFT_X} plotTop={ROW_TOPS[2]} series={E} yLabels xLabels />
      <MainPanel plotLeft={RIGHT_X} plotTop={ROW_TOPS[2]} series={F} yLabels={false} xLabels />

      <InsetPanel plotLeft={183} plotTop={56} plotW={186} plotH={117} yMax={0.01} yTicks={[0, 0.005, 0.01]} yTickLabels={['0', '0.005', '0.010']}
        xTicks={IX_TICKS} xTickLabels={IX_LABELS} series={A} r={3.4} />
      <InsetPanel plotLeft={666} plotTop={53} plotW={192} plotH={121} yMax={0.01} yTicks={[0, 0.005, 0.01]} yTickLabels={['0', '0.005', '0.010']}
        xTicks={IX_TICKS} xTickLabels={IX_LABELS} series={B} r={3.4} />
      <InsetPanel plotLeft={183} plotTop={403} plotW={186} plotH={115} yMax={0.01} yTicks={[0, 0.005, 0.01]} yTickLabels={['0', '0.005', '0.01']}
        xTicks={[0.9, 1]} xTickLabels={['0.9', '1']} series={C} r={3.6} broken />
      <InsetPanel plotLeft={666} plotTop={399} plotW={192} plotH={135} yMax={0.03} yTicks={[0, 0.01, 0.02, 0.03]} yTickLabels={['0', '0.01', '0.02', '0.03']}
        xTicks={IX_TICKS} xTickLabels={IX_LABELS} series={D} r={3.8} />

      <LegendBlock alpha={ALPHAS[0]} alphaLeft={433} alphaCy={62} dotX={416} textLeft={433} ys={[91, 123, 155, 187]} names={RE_A} />
      <LegendBlock alpha={ALPHAS[0]} alphaLeft={923} alphaCy={62} dotX={903} textLeft={923} ys={[96, 128, 160, 192]} names={RE_B} />
      <LegendBlock alpha={ALPHAS[1]} alphaLeft={436} alphaCy={403} dotX={416} textLeft={434} ys={[433, 465, 498, 531]} names={RE_C} />
      <LegendBlock alpha={ALPHAS[1]} alphaLeft={927} alphaCy={403} dotX={903} textLeft={923} ys={[435, 467, 499, 532]} names={RE_D} />
      <LegendBlock alpha={ALPHAS[2]} alphaLeft={436} alphaCy={737} dotX={416} textLeft={434} ys={[770, 803, 835, 867]} names={RE_E} />
      <LegendBlock alpha={ALPHAS[2]} alphaLeft={927} alphaCy={740} dotX={903} textLeft={923} ys={[773, 806, 838, 871]} names={RE_F} />

      <YTitle cy={191} fullBar={false} />
      <YTitle cy={536} fullBar={false} />
      <YTitle cy={881} fullBar />

      <div style={{ position: 'absolute', left: 343 - 30, top: 1100 - 15, width: 60, height: 30, lineHeight: '30px', textAlign: 'center', fontFamily: SANS, fontSize: 23, fontStyle: 'italic', color: INK }}>x/c</div>
      <div style={{ position: 'absolute', left: 823 - 30, top: 1100 - 15, width: 60, height: 30, lineHeight: '30px', textAlign: 'center', fontFamily: SANS, fontSize: 23, fontStyle: 'italic', color: INK }}>x/c</div>
    </div>
  );
}
